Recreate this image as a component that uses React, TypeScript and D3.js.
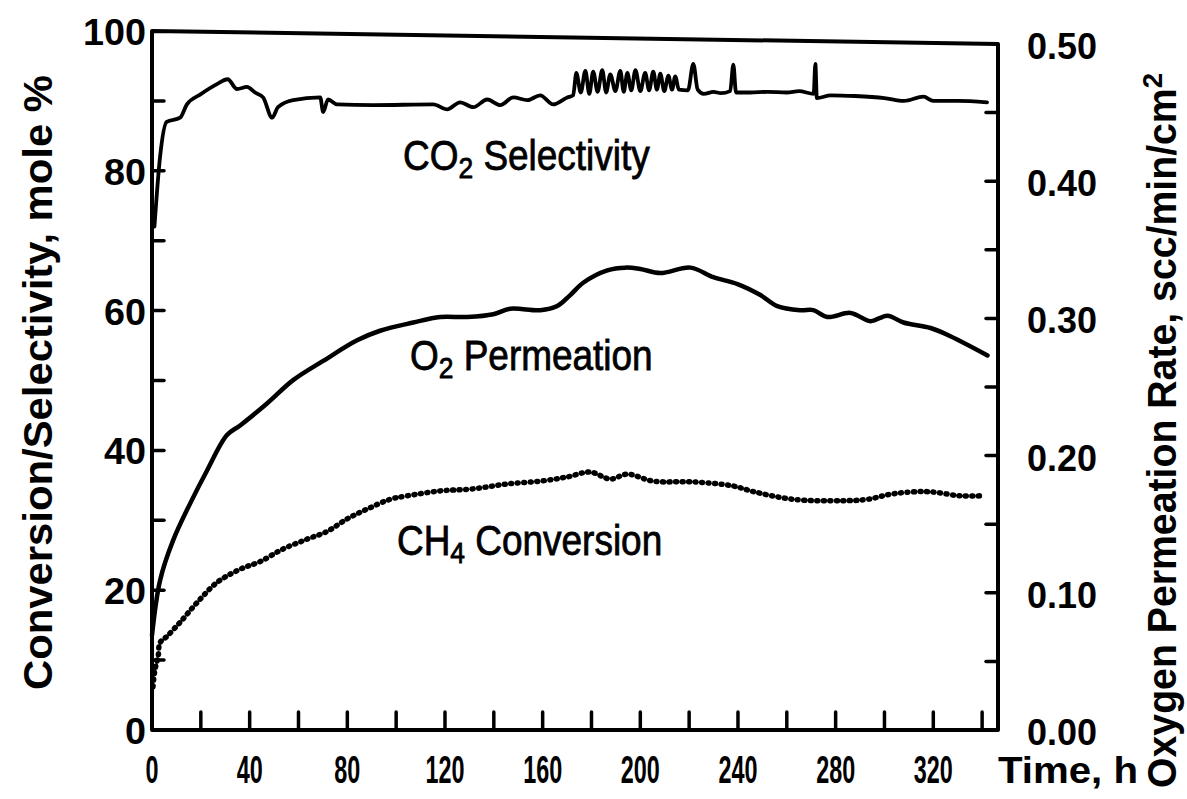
import * as d3 from 'd3';

// CO2 selectivity, mole % (left axis)
const co2Hours = [
  1, 3.3, 6, 11.5, 14.3, 19.7, 26.6, 31, 34.8, 38.9, 42.2, 45.5, 49.2, 51.6, 57.8, 68.9, 70.1, 72.1, 75.8, 90.6,
  115.2, 120.9, 126.2, 131.6, 137.3, 142.6, 148, 153.7, 159, 164.3, 170.1, 172.5,
  173.8, 175.6, 177.5, 179.1, 180.7, 182.5, 184.4, 186, 187.7, 189.8, 191.8, 193.2, 194.7, 196.3, 198, 200,
  202, 203.6, 205.3, 206.8, 208.2, 209.8, 211.5, 213, 214.3, 215.8, 219.5, 221.7, 223.5, 226, 230, 233,
  236.8, 238.1, 239.2, 245, 252, 260, 265, 271, 271.7, 272.3, 278, 288, 300, 308, 316, 320, 330, 342,
];
const co2Selectivity = [
  72, 82, 87, 87.6, 89.5, 90.9, 92.4, 93.1, 91.7, 92, 91.2, 90.5, 87.6, 89.1, 90.1, 90.5, 88.4, 90.2, 89.5, 89.4,
  89.5, 88.8, 89.8, 89.1, 90.2, 89.4, 90.5, 90.1, 90.8, 89.5, 90.5, 90.8,
  94, 91.2, 94.3, 91, 94.2, 91.3, 94.4, 91.2, 93.8, 91.4, 94.3, 91.3, 94, 91.5, 94.4, 91.4,
  94, 91.5, 94.2, 91.6, 93.9, 91.4, 93.6, 91.6, 93.5, 91.6, 91.5, 95.3, 91.6, 91, 91.3, 91.1,
  91.4, 95.2, 91.2, 91.2, 91.3, 91.2, 91.4, 91, 95.3, 90.4, 90.8, 90.7, 90.4, 90, 90.6, 90, 90, 89.8,
];

// O2 permeation rate, scc/min/cm2 (right axis)
const o2Hours = [
  0, 3.3, 8.6, 15.6, 22.5, 30.7, 36.1, 47.1, 57.8, 70.1, 84, 93.4, 107, 118, 129.1, 139.8, 146.7, 159, 166,
  171.3, 176.6, 186.5, 193.9, 200, 208.2, 220.5, 229.9, 239.8, 249.2, 256.1, 265.6, 270.9, 276.6, 286.1,
  294.3, 301.2, 307.8, 318.9, 327, 342.2,
];
const o2Rate = [
  0.069, 0.109, 0.138, 0.165, 0.189, 0.215, 0.222, 0.238, 0.255, 0.269, 0.284, 0.291, 0.297, 0.301, 0.301,
  0.303, 0.307, 0.306, 0.309, 0.317, 0.326, 0.335, 0.337, 0.336, 0.333, 0.337, 0.33, 0.325, 0.317, 0.309,
  0.306, 0.306, 0.301, 0.304, 0.298, 0.302, 0.297, 0.293, 0.287, 0.273,
];

// CH4 conversion, mole % (left axis)
const ch4Hours = [
  0.4, 1.2, 2.5, 3.3, 6.1, 11.5, 18.4, 26.6, 36.1, 44.3, 53.7, 63.5, 71.7, 79.9, 88.1, 97.5, 104.5, 118,
  131.6, 145.5, 159, 170.1, 179.5, 187.7, 194.7, 205.3, 221.7, 238.1, 246.3, 262.7, 283.2, 293, 303.7,
  317.6, 331.1, 339.3,
];
const ch4Conversion = [
  6.2, 8.6, 10.5, 12.5, 13.4, 15.4, 18.2, 21.1, 23, 24.1, 25.9, 27.3, 28.4, 30.2, 31.6, 33, 33.5, 34.2,
  34.5, 35.2, 35.6, 36.2, 36.9, 35.9, 36.6, 35.6, 35.5, 34.9, 34.1, 33, 32.8, 33, 33.8, 34.1, 33.5, 33.5,
];

const timeTicks = d3.range(20, 341, 20);
const timeLabels = [0, 40, 80, 120, 160, 200, 240, 280, 320];
const leftMinor = d3.range(10, 100, 10);
const leftLabels = [0, 20, 40, 60, 80, 100];
const rightMinor = [0.05, 0.1, 0.15, 0.2, 0.25, 0.3, 0.35, 0.4, 0.45];
const rightLabels = [0, 0.1, 0.2, 0.3, 0.4, 0.5];

const FONT = '"Liberation Sans", Arial, Helvetica, sans-serif';

// label with a subscript, squeezed horizontally like the original lettering
const SeriesLabel = ({ x, y, main, sub, rest }: { x: number; y: number; main: string; sub: string; rest: string }) => (
  <text transform={`translate(${x},${y}) scale(0.88,1)`} fontSize={42} stroke="#000" strokeWidth={0.8}>
    {main}
    <tspan fontSize={30} dy={8}>{sub}</tspan>
    <tspan dy={-8}>{rest}</tspan>
  </text>
);

export default function App() {
  const x = d3.scaleLinear().domain([0, 346.5]).range([152, 998]);
  const yL = d3.scaleLinear().domain([0, 100]).range([730, 31]);
  const yR = d3.scaleLinear().domain([0, 0.5]).range([730, 44]);

  const co2Path = d3.line<number>()
    .x((_, i) => x(co2Hours[i]))
    .y((d) => yL(d))
    .curve(d3.curveMonotoneX)(co2Selectivity);
  const o2Path = d3.line<number>()
    .x((_, i) => x(o2Hours[i]))
    .y((d) => yR(d))
    .curve(d3.curveCatmullRom.alpha(0.5))(o2Rate);
  const ch4Path = d3.line<number>()
    .x((_, i) => x(ch4Hours[i]))
    .y((d) => yL(d))
    .curve(d3.curveCatmullRom.alpha(0.5))(ch4Conversion);

  const [x0, x1] = x.range();
  const frame = `M${x0},${yL(100)}L${x0},${yL(0)}L${x1},${yR(0)}L${x1},${yR(0.5)}Z`;

  return (
    <svg width={1187} height={799} style={{ position: 'absolute', left: 0, top: 0, background: '#fff' }}
      fontFamily={FONT}>
      <path d={frame} fill="none" stroke="#000" strokeWidth={4} strokeLinejoin="round" />

      {/* ticks, all pointing inward */}
      {timeTicks.map((t) => (
        <line key={'bt' + t} x1={x(t)} x2={x(t)} y1={yL(0)} y2={yL(0) - 18}
          stroke="#000" strokeWidth={3.5} strokeLinecap="round" />
      ))}
      {leftMinor.map((v) => (
        <line key={'lt' + v} x1={x0} x2={x0 + 12} y1={yL(v)} y2={yL(v)}
          stroke="#000" strokeWidth={3.5} strokeLinecap="round" />
      ))}
      {rightMinor.map((v) => (
        <line key={'rt' + v} x1={x1} x2={x1 - 12} y1={yR(v)} y2={yR(v)}
          stroke="#000" strokeWidth={3.5} strokeLinecap="round" />
      ))}

      {/* tick labels */}
      {timeLabels.map((t) => (
        <text key={'bl' + t} x={x(t)} y={783} textAnchor="middle" fontSize={38} fontWeight="bold"
          textLength={String(t).length * 13} lengthAdjust="spacingAndGlyphs">{t}</text>
      ))}
      {leftLabels.map((v) => (
        <text key={'ll' + v} x={146} y={yL(v) + 14} textAnchor="end" fontSize={37} fontWeight="bold"
          textLength={String(v).length * 21} lengthAdjust="spacingAndGlyphs">{v}</text>
      ))}
      {rightLabels.map((v) => (
        <text key={'rl' + v} x={1027} y={yR(v) + 15} fontSize={37} fontWeight="bold"
          textLength={70} lengthAdjust="spacingAndGlyphs">{v.toFixed(2)}</text>
      ))}
      <text x={998} y={783} fontSize={37} fontWeight="bold" textLength={140}
        lengthAdjust="spacingAndGlyphs">Time, h</text>

      {/* axis titles */}
      <text transform="translate(52,690) rotate(-90)" fontSize={40} fontWeight="bold"
        textLength={615} lengthAdjust="spacingAndGlyphs">Conversion/Selectivity, mole %</text>
      <text transform="translate(1176,788) rotate(-90)" fontSize={40} fontWeight="bold"
        textLength={715} lengthAdjust="spacingAndGlyphs">
        Oxygen Permeation Rate, scc/min/cm<tspan fontSize={28} dy={-14}>2</tspan>
      </text>

      {/* series */}
      <path d={co2Path ?? ''} fill="none" stroke="#000" strokeWidth={3.8} strokeLinejoin="round" strokeLinecap="round" />
      <path d={o2Path ?? ''} fill="none" stroke="#000" strokeWidth={4.5} strokeLinejoin="round" strokeLinecap="round" />
      <path d={ch4Path ?? ''} fill="none" stroke="#000" strokeWidth={5.5} strokeDasharray="1 5.5"
        strokeLinecap="round" />

      {/* series labels */}
      <SeriesLabel x={403} y={170} main="CO" sub="2" rest=" Selectivity" />
      <SeriesLabel x={410} y={370} main="O" sub="2" rest=" Permeation" />
      <SeriesLabel x={397} y={555} main="CH" sub="4" rest=" Conversion" />
    </svg>
  );
}
